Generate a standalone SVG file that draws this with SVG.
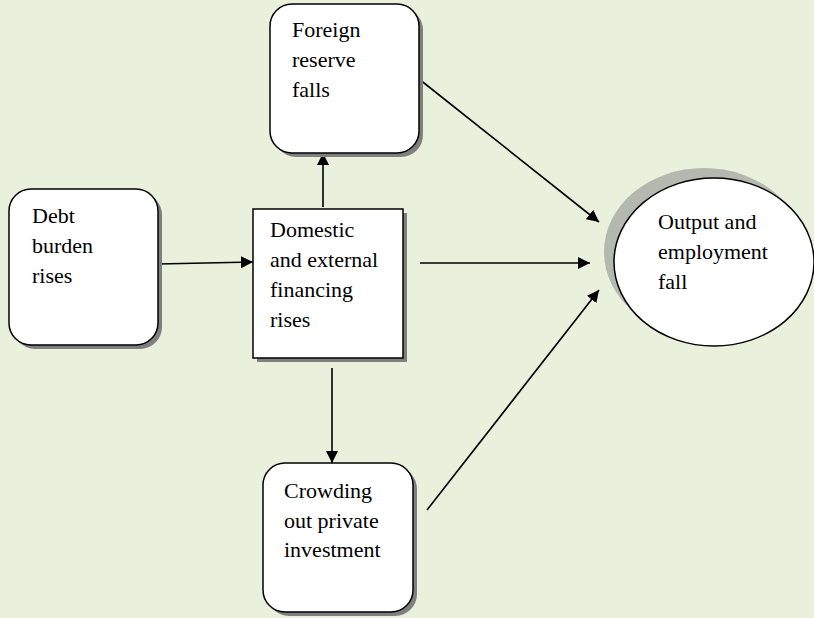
<svg xmlns="http://www.w3.org/2000/svg" width="814" height="618" viewBox="0 0 814 618">
<defs>
<style>
.box{fill:#fff;stroke:#000;stroke-width:1.5}
.sh{fill:#7f7f7f}
.esh{fill:#b4b8ae}
.t{font-family:"Liberation Serif","Times New Roman",serif;font-size:22px;fill:#000}
.c{stroke:#000;stroke-width:1.6;fill:none;marker-end:url(#ah)}
</style>
<marker id="ah" viewBox="0 0 10 10" refX="10" refY="5" markerWidth="12" markerHeight="12" markerUnits="userSpaceOnUse" orient="auto">
<path d="M0,0 L10,5 L0,10 z" fill="#000"/>
</marker>
</defs>
<rect width="814" height="618" fill="#e9f0db"/>
<g id="connectors">
<line class="c" x1="158" y1="264" x2="253" y2="262"/>
<line class="c" x1="323" y1="207" x2="323" y2="153"/>
<line class="c" x1="420" y1="263" x2="590" y2="263"/>
<line class="c" x1="332" y1="368" x2="332" y2="463"/>
<line class="c" x1="419" y1="79" x2="599" y2="222"/>
<line class="c" x1="427" y1="510" x2="599" y2="290"/>
</g>
<g id="foreign">
<rect class="sh" x="274" y="8" width="149" height="149" rx="22"/>
<rect class="box" x="270" y="4" width="149" height="149" rx="22"/>
<text class="t" x="292" y="37">Foreign</text>
<text class="t" x="292" y="67">reserve</text>
<text class="t" x="292" y="97">falls</text>
</g>
<g id="debt">
<rect class="sh" x="13" y="193" width="149" height="156" rx="22"/>
<rect class="box" x="9" y="189" width="149" height="156" rx="22"/>
<text class="t" x="32" y="223">Debt</text>
<text class="t" x="32" y="253">burden</text>
<text class="t" x="32" y="283">rises</text>
</g>
<g id="domestic">
<rect class="sh" x="257" y="213" width="150" height="149"/>
<rect class="box" x="253" y="209" width="150" height="149"/>
<text class="t" x="270" y="237">Domestic</text>
<text class="t" x="270" y="267">and external</text>
<text class="t" x="270" y="297">financing</text>
<text class="t" x="270" y="327">rises</text>
</g>
<g id="crowding">
<rect class="sh" x="267" y="467" width="150" height="149" rx="22"/>
<rect class="box" x="263" y="463" width="150" height="149" rx="22"/>
<text class="t" x="284" y="498">Crowding</text>
<text class="t" x="284" y="528">out private</text>
<text class="t" x="284" y="557">investment</text>
</g>
<g id="output">
<ellipse class="esh" cx="704" cy="252" rx="100" ry="84"/>
<ellipse class="box" cx="714" cy="262" rx="100" ry="84"/>
<text class="t" x="658" y="229">Output and</text>
<text class="t" x="658" y="259">employment</text>
<text class="t" x="658" y="289">fall</text>
</g>
</svg>
